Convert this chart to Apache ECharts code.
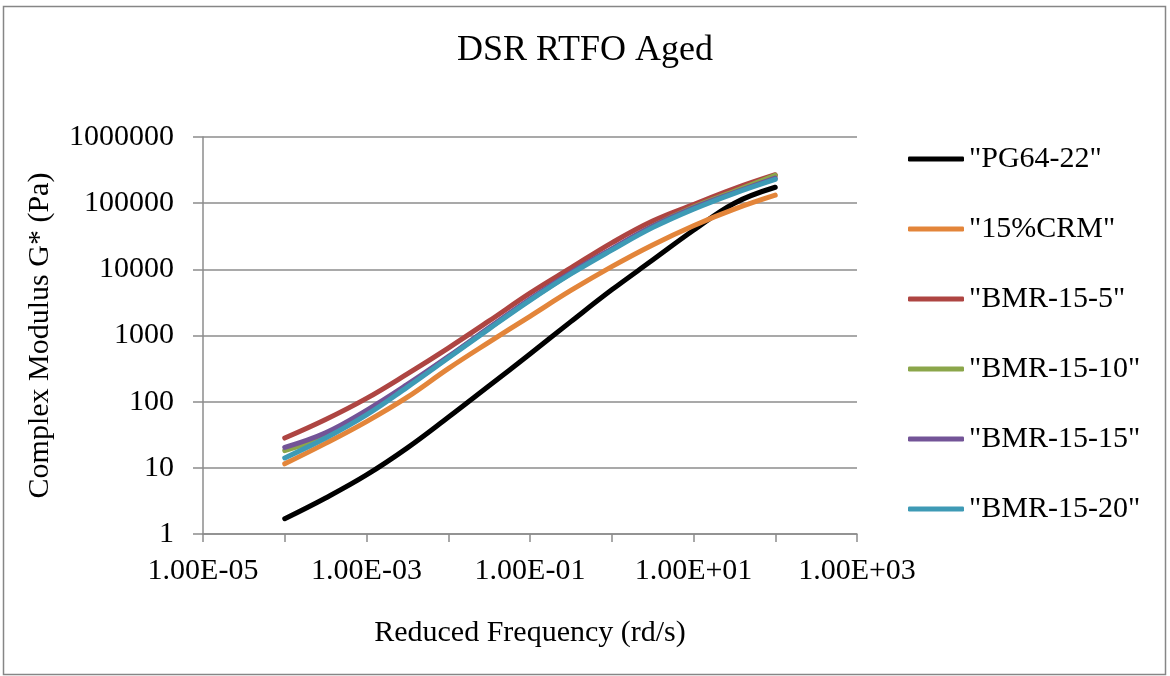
<!DOCTYPE html>
<html>
<head>
<meta charset="utf-8">
<title>DSR RTFO Aged</title>
<script src="https://cdn.jsdelivr.net/npm/echarts@6/dist/echarts.min.js"></script>
<style>
  html, body { margin: 0; padding: 0; background: #fff; }
  #chart { width: 1170px; height: 676px; }
</style>
</head>
<body>
<div id="chart"></div>
<script>
// reduced frequency (rd/s), shared by all curves
const freq = [0.0001, 0.000316, 0.001, 0.00316, 0.01, 0.0316, 0.1, 0.316, 1, 3.16, 10, 31.6, 100];

// complex modulus G* (Pa)
const pg6422 = [1.7, 3.5, 7.8, 20, 58, 174, 525, 1620, 4900, 13800, 38900, 100000, 174000];
const crm15 = [11.5, 23.4, 50, 117, 316, 794, 1950, 4790, 11000, 23400, 45700, 81300, 132000];
const bmr5 = [28.2, 53.7, 112, 263, 646, 1660, 4370, 10500, 25100, 53700, 95500, 166000, 269000];
const bmr10 = [18.2, 30.2, 69, 174, 468, 1290, 3470, 8710, 20000, 44700, 87100, 151000, 263000];
const bmr15 = [20.4, 33.9, 74, 182, 479, 1320, 3550, 8910, 20400, 44700, 85100, 145000, 240000];
const bmr20 = [14.1, 28.2, 63, 166, 457, 1260, 3390, 8510, 19500, 42700, 81300, 141000, 229000];

// x label positions and their texts
const xTicks = [1e-5, 1e-3, 1e-1, 1e1, 1e3];
const xTickLabels = ['1.00E-05', '1.00E-03', '1.00E-01', '1.00E+01', '1.00E+03'];

const names = ['"PG64-22"', '"15%CRM"', '"BMR-15-5"', '"BMR-15-10"', '"BMR-15-15"', '"BMR-15-20"'];
const values = [pg6422, crm15, bmr5, bmr10, bmr15, bmr20];
const colors = ['#000000', '#E3853A', '#AE4542', '#8BA64A', '#735497', '#3E9AB5'];

const font = 'Liberation Serif';
const gray = '#8C8C8C';

function xLabel(v) {
  let best = 0;
  for (let i = 1; i < xTicks.length; i++) {
    if (Math.abs(Math.log10(xTicks[i] / v)) < Math.abs(Math.log10(xTicks[best] / v))) best = i;
  }
  return xTickLabels[best];
}

const myChart = echarts.init(document.getElementById('chart'));

myChart.setOption({
  backgroundColor: '#fff',
  animation: false,
  color: colors,
  title: {
    text: 'DSR RTFO Aged',
    left: 'center',
    top: 28,
    textStyle: { fontFamily: font, fontSize: 36, fontWeight: 'normal', color: '#000' }
  },
  graphic: [{
    type: 'rect',
    shape: { x: 3.5, y: 6.5, width: 1162, height: 668 },
    style: { fill: null, stroke: '#868686', lineWidth: 1.5 },
    silent: true
  }],
  legend: {
    orient: 'vertical',
    left: 908,
    top: 144,
    padding: 0,
    icon: 'roundRect',
    itemWidth: 56,
    itemHeight: 5,
    itemGap: 40,
    textStyle: { fontFamily: font, fontSize: 30, color: '#000', lineHeight: 30 },
    data: names
  },
  grid: { left: 203, top: 137, width: 654, height: 397 },
  xAxis: {
    type: 'log',
    logBase: 10,
    min: 1e-5,
    max: 1e3,
    name: 'Reduced Frequency (rd/s)',
    nameLocation: 'middle',
    nameGap: 84,
    nameTextStyle: { fontFamily: font, fontSize: 30, color: '#000' },
    axisLine: { onZero: false, lineStyle: { color: gray, width: 1.5 } },
    axisTick: { show: true, inside: false, length: 8, lineStyle: { color: gray, width: 1.5 } },
    splitLine: { show: false },
    minorTick: { show: false },
    axisLabel: {
      margin: 22,
      customValues: xTicks,
      fontFamily: font, fontSize: 30, color: '#000',
      formatter: xLabel
    }
  },
  yAxis: {
    type: 'log',
    logBase: 10,
    min: 1,
    max: 1e6,
    name: 'Complex Modulus G* (Pa)',
    nameLocation: 'middle',
    nameGap: 148,
    nameTextStyle: { fontFamily: font, fontSize: 30, color: '#000' },
    axisLine: { show: true, onZero: false, lineStyle: { color: gray, width: 1.5 } },
    axisTick: { show: true, length: 10, lineStyle: { color: gray, width: 1.5 } },
    splitLine: { show: true, lineStyle: { color: gray, width: 1.5 } },
    axisLabel: {
      margin: 29,
      fontFamily: font, fontSize: 30, color: '#000',
      formatter: function (v) { return String(Math.round(v)); }
    }
  },
  series: names.map(function (n, i) {
    return {
      name: n,
      type: 'line',
      smooth: 0.4,
      showSymbol: false,
      symbol: 'none',
      lineStyle: { width: 5, color: colors[i], cap: 'round', join: 'round' },
      data: freq.map(function (f, j) { return [f, values[i][j]]; })
    };
  })
});
</script>
</body>
</html>
